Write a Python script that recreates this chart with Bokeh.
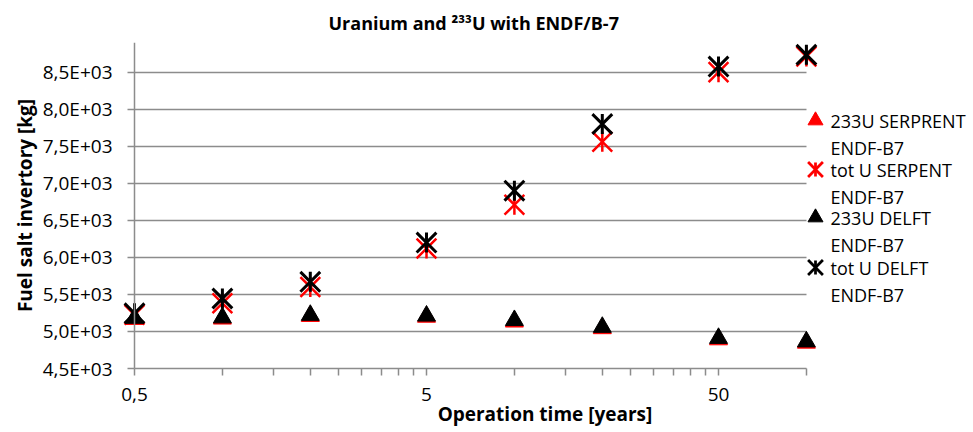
import numpy as np
from bokeh.plotting import figure
from bokeh.models import FixedTicker, Title, Range1d, LinearScale, Span
from bokeh.core.properties import value
from bokeh.embed import file_html
from bokeh.resources import INLINE

# ---- data ----
years = [0.5, 1, 2, 5, 10, 20, 50, 100]
u233_serpent = [5165, 5170, 5205, 5195, 5130, 5040, 4890, 4845]
totu_serpent = [5225, 5380, 5600, 6120, 6710, 7560, 8500, 8710]
u233_delft = [5180, 5186, 5220, 5210, 5150, 5058, 4909, 4862]
totu_delft = [5245, 5445, 5670, 6200, 6900, 7800, 8575, 8735]

y_ticks = [4500, 5000, 5500, 6000, 6500, 7000, 7500, 8000, 8500]
y_tick_labels = ["4,5E+03", "5,0E+03", "5,5E+03", "6,0E+03", "6,5E+03",
                 "7,0E+03", "7,5E+03", "8,0E+03", "8,5E+03"]
x_ticks = [0.5, 5, 50]
x_tick_labels = ["0,5", "5", "50"]
x_axis_span = (0.5, 100)
y_axis_span = (4500, 8900)
series_labels = ["233U SERPRENT", "tot U SERPENT", "233U DELFT", "tot U DELFT"]
label_suffix = "ENDF-B7"

# ---- layout (pixels) ----
FONT = "Open Sans"
GRAY = "#8c8c8c"
RED = "#ff0000"
BLACK = "#000000"
FRAME_W, FRAME_H = 845, 326
DECADE_PX = 292.0          # pixels per decade on the time axis
LEFT_PAD_PX = 12           # room left of the first point so its markers are not clipped

x_start = x_axis_span[0] * 10 ** (-LEFT_PAD_PX / DECADE_PX)
x_end = x_axis_span[0] * 10 ** ((FRAME_W - LEFT_PAD_PX) / DECADE_PX)

p = figure(x_axis_type="log", x_range=Range1d(x_start, x_end), y_range=Range1d(*y_axis_span),
           frame_width=FRAME_W, frame_height=FRAME_H,
           min_border_left=122, min_border_right=0, min_border_top=35, min_border_bottom=50,
           output_backend="svg", toolbar_location=None,
           background_fill_color="white", border_fill_color="white", outline_line_color=None)

p.title = Title(text="Uranium and \u00b2\u00b3\u00b3U with ENDF/B-7", align="left",
                offset=206, standoff=16,
                text_font=FONT, text_font_size="18px", text_font_style="bold",
                text_color=BLACK)

minor = [m * k for m in x_ticks for k in range(2, 10) if m * k <= x_axis_span[1]]
p.xaxis.ticker = FixedTicker(ticks=x_ticks, minor_ticks=minor)
p.xaxis.major_label_overrides = {t: l for t, l in zip(x_ticks, x_tick_labels)}
p.xaxis.bounds = x_axis_span
p.yaxis.ticker = FixedTicker(ticks=y_ticks)
p.yaxis.major_label_overrides = {t: l for t, l in zip(y_ticks, y_tick_labels)}

for ax in (p.xaxis, p.yaxis):
    ax.axis_line_color = GRAY
    ax.axis_line_width = 1.5
    ax.major_tick_line_color = GRAY
    ax.major_tick_line_width = 1.5
    ax.major_tick_in = 0
    ax.major_tick_out = 7
    ax.minor_tick_line_color = GRAY
    ax.minor_tick_line_width = 1.5
    ax.minor_tick_in = 0
    ax.minor_tick_out = 7
    ax.major_label_text_font = FONT
    ax.major_label_text_font_size = "19px"
    ax.major_label_text_color = BLACK
    ax.axis_label_text_font = FONT
    ax.axis_label_text_font_size = "19px"
    ax.axis_label_text_font_style = "bold"
    ax.axis_label_text_color = BLACK
p.xaxis.major_label_standoff = 12
p.xaxis.axis_label = "Operation time [years]"
p.xaxis.axis_label_standoff = -3

# the y axis sits on the frame's left edge; its line and ticks are moved onto x = 0.5
p.yaxis.axis_line_color = None
p.yaxis.minor_tick_line_color = None
p.yaxis.minor_tick_out = 0
p.yaxis.major_tick_in = LEFT_PAD_PX
p.yaxis.major_tick_out = 7 - LEFT_PAD_PX
p.yaxis.major_label_standoff = 10
p.yaxis.axis_label = "Fuel salt invertory [kg]"
p.yaxis.axis_label_standoff = 2
p.add_layout(Span(location=x_axis_span[0], dimension="height", line_color=GRAY, line_width=1.5))

p.xgrid.visible = False
p.ygrid.grid_line_color = GRAY
p.ygrid.grid_line_width = 1.5
p.ygrid.cross_bounds = x_axis_span

p.scatter(years, u233_serpent, marker="triangle", size=18, fill_color=RED, line_color=RED)
p.scatter(years, totu_serpent, marker="x", size=28, line_color=RED, line_width=2.5)
p.scatter(years, totu_serpent, marker="dash", angle=np.pi / 2, size=20,
          line_color=RED, line_width=2.5)
p.scatter(years, u233_delft, marker="triangle", size=18, fill_color=BLACK, line_color=BLACK)
p.scatter(years, totu_delft, marker="x", size=28, line_color=BLACK, line_width=3)
p.scatter(years, totu_delft, marker="dash", angle=np.pi / 2, size=20,
          line_color=BLACK, line_width=3)

# ---- legend, drawn to the right of the axes in frame pixel coordinates ----
p.extra_x_ranges = {"lx": Range1d(0, FRAME_W)}
p.extra_y_ranges = {"ly": Range1d(0, FRAME_H)}
p.extra_x_scales = {"lx": LinearScale()}
p.extra_y_scales = {"ly": LinearScale()}

LEG_MARK_X = 693
LEG_TEXT_X = 708
LEG_ROW_Y = [248, 199, 151, 101]      # first line of each entry, from frame bottom
LEG_LINE_GAP = 27
leg_colors = [RED, RED, BLACK, BLACK]
leg_markers = ["triangle", "asterisk", "triangle", "asterisk"]

for lbl, col, mk, ry in zip(series_labels, leg_colors, leg_markers, LEG_ROW_Y):
    if mk == "triangle":
        p.scatter([LEG_MARK_X], [ry], marker="triangle", size=15, fill_color=col,
                  line_color=col, x_range_name="lx", y_range_name="ly")
    else:
        p.scatter([LEG_MARK_X], [ry], marker="x", size=21, line_color=col, line_width=2.75,
                  x_range_name="lx", y_range_name="ly")
        p.scatter([LEG_MARK_X], [ry], marker="dash", angle=np.pi / 2, size=14,
                  line_color=col, line_width=2.75, x_range_name="lx", y_range_name="ly")
    p.text([LEG_TEXT_X, LEG_TEXT_X], [ry, ry - LEG_LINE_GAP], text=[lbl, label_suffix],
           text_font=value(FONT), text_font_size="18px", text_color=BLACK,
           text_align="left", text_baseline="middle", x_range_name="lx", y_range_name="ly")

open("out.html", "w").write(file_html(p, INLINE))
